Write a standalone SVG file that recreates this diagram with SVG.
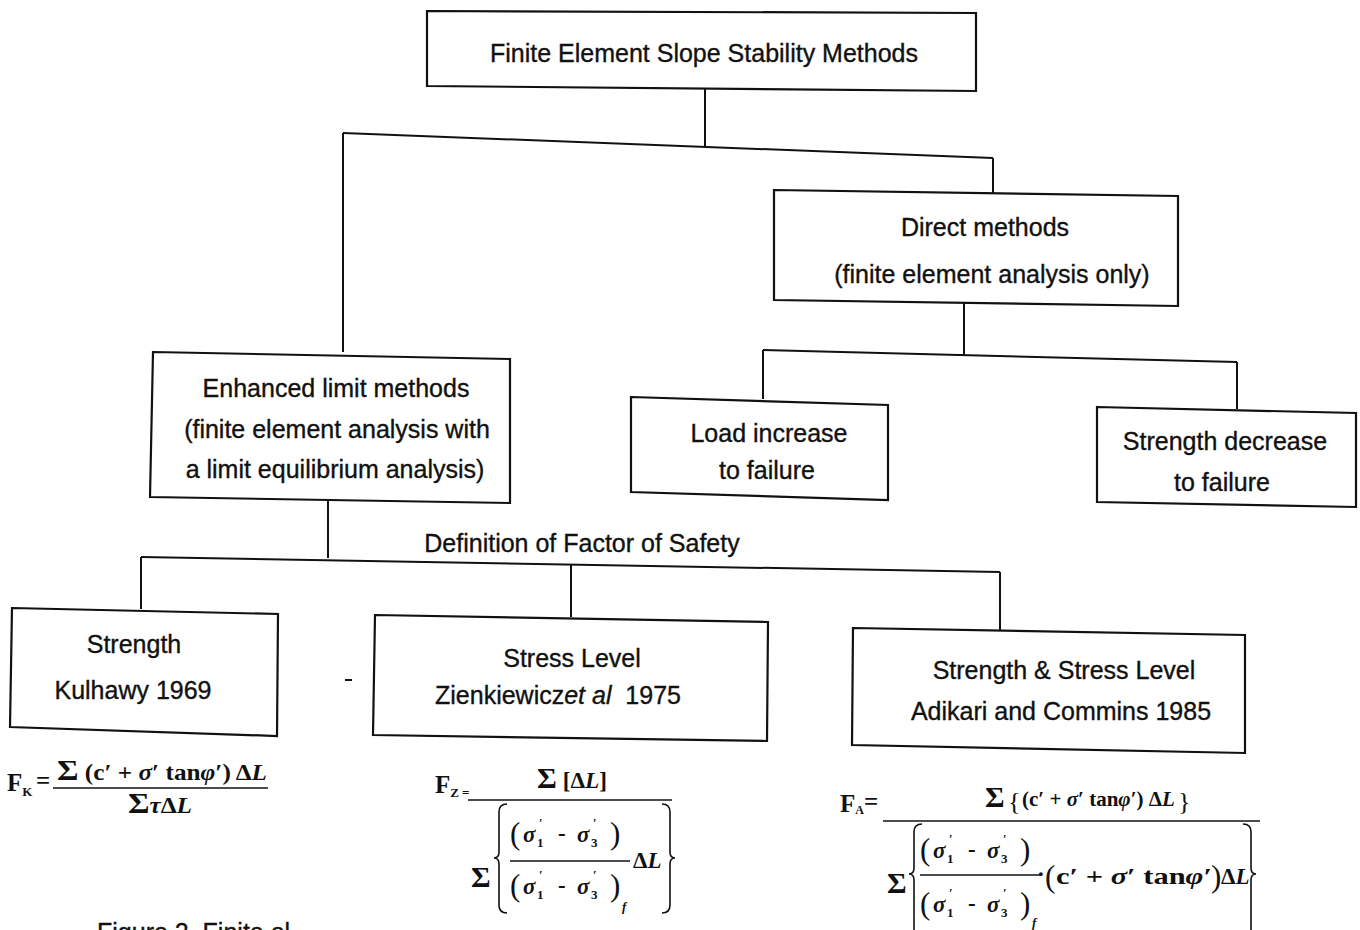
<svg xmlns="http://www.w3.org/2000/svg" xmlns:xlink="http://www.w3.org/1999/xlink" width="1360" height="930" viewBox="0 0 1360 930">
<style>
.box{fill:#fff;stroke:#111;stroke-width:2.2;stroke-linejoin:miter}
.ln{fill:none;stroke:#111;stroke-width:2}
.fl{fill:none;stroke:#111;stroke-width:1.6}
.t{font-family:"Liberation Sans",Arial,sans-serif;font-size:25px;fill:#111;stroke:#111;stroke-width:0.35;text-anchor:middle}
.m{font-family:"Liberation Serif","Times New Roman",serif;font-size:23px;font-weight:bold;fill:#111}
.i{font-style:italic}
.s{font-size:13px}
.big{font-size:31px;font-weight:normal}
.sg{font-size:30px}
.f25{font-size:25px}
.f21{font-size:21px}
</style>
<defs>
<g id="sdiff">
<text class="m big" x="0" y="2">(</text>
<text class="m i" x="13" y="0">σ</text>
<text class="m s" x="27" y="5">1</text>
<text class="m s" x="29" y="-15">′</text>
<text class="m" x="48" y="-1">-</text>
<text class="m i" x="67" y="0">σ</text>
<text class="m s" x="81" y="5">3</text>
<text class="m s" x="83" y="-15">′</text>
<text class="m big" x="100" y="2">)</text>
</g>
</defs>
<rect width="1360" height="930" fill="#fff"/>

<g id="connectors">
<path class="ln" d="M705,88 L705,147"/>
<path class="ln" d="M343,133 L993,158"/>
<path class="ln" d="M343,133 L343,352"/>
<path class="ln" d="M993,158 L993,193"/>
<path class="ln" d="M964,303 L964,356"/>
<path class="ln" d="M763,350 L1237,362"/>
<path class="ln" d="M763,350 L763,399"/>
<path class="ln" d="M1237,362 L1237,409"/>
<path class="ln" d="M328,500 L328,558"/>
<path class="ln" d="M141,557 L1000,572"/>
<path class="ln" d="M141,557 L141,609"/>
<path class="ln" d="M571,564 L571,617"/>
<path class="ln" d="M1000,572 L1000,630"/>
</g>

<g id="n-root">
<path class="box" d="M427,11 L976,13 L976,91 L427,86 Z"/>
<text class="t" x="704" y="62">Finite Element Slope Stability Methods</text>
</g>

<g id="n-direct">
<path class="box" d="M774,190 L1178,196 L1178,306 L774,300 Z"/>
<text class="t" x="985" y="236">Direct methods</text>
<text class="t" x="992" y="283">(finite element analysis only)</text>
</g>

<g id="n-load">
<path class="box" d="M631,397 L888,405 L888,500 L631,492 Z"/>
<text class="t" x="769" y="442">Load increase</text>
<text class="t" x="767" y="479">to failure</text>
</g>

<g id="n-strdec">
<path class="box" d="M1097,407 L1356,413 L1356,507 L1097,502 Z"/>
<text class="t" x="1225" y="450">Strength decrease</text>
<text class="t" x="1222" y="491">to failure</text>
</g>

<g id="n-enhanced">
<path class="box" d="M153,352 L510,359 L510,503 L150,497 Z"/>
<text class="t" x="336" y="397">Enhanced limit methods</text>
<text class="t" x="337" y="438">(finite element analysis with</text>
<text class="t" x="335" y="478">a limit equilibrium analysis)</text>
</g>

<g id="label-fos">
<text class="t" x="582" y="552">Definition of Factor of Safety</text>
</g>

<g id="n-strength">
<path class="box" d="M12,608 L278,614 L277,736 L10,727 Z"/>
<text class="t" x="134" y="653">Strength</text>
<text class="t" x="133" y="699">Kulhawy 1969</text>
</g>

<g id="n-stress">
<path class="box" d="M375,615 L768,622 L767,741 L373,735 Z"/>
<text class="t" x="572" y="667">Stress Level</text>
<text class="t" x="558" y="704">Zienkiewicz<tspan class="i">et al</tspan>&#160; 1975</text>
</g>

<g id="n-both">
<path class="box" d="M853,628 L1245,635 L1245,753 L852,745 Z"/>
<text class="t" x="1064" y="679">Strength &amp; Stress Level</text>
<text class="t" x="1061" y="720">Adikari and Commins 1985</text>
</g>

<path class="ln" d="M345,680 L352,680"/>

<g id="f-kulhawy">
<text class="m f25" x="7" y="791">F<tspan class="s" dy="5">K</tspan></text>
<text class="m f25" x="36" y="789">=</text>
<text class="m" x="57" y="780" textLength="210" lengthAdjust="spacingAndGlyphs"><tspan class="sg">Σ</tspan> (c′ + <tspan class="i">σ</tspan>′ tan<tspan class="i">φ</tspan>′) Δ<tspan class="i">L</tspan></text>
<path class="fl" d="M53,788 L268,788"/>
<text class="m" x="128" y="813" textLength="64" lengthAdjust="spacingAndGlyphs"><tspan class="sg">Σ</tspan><tspan class="i">τ</tspan>Δ<tspan class="i">L</tspan></text>
</g>

<g id="f-zienkiewicz">
<text class="m f25" x="435" y="793">F<tspan class="s" dy="4">Z</tspan></text>
<text class="m s" x="462" y="797">=</text>
<text class="m" x="537" y="788" textLength="70" lengthAdjust="spacingAndGlyphs"><tspan class="sg">Σ</tspan> [Δ<tspan class="i">L</tspan>]</text>
<path class="fl" d="M468,800 L672,800"/>
<text class="m sg" x="471" y="887">Σ</text>
<path class="fl" d="M507,804 Q499,804 499,812 L499,852 Q499,858 494,858 Q499,858 499,864 L499,905 Q499,913 507,913"/>
<path class="fl" d="M662,804 Q670,804 670,812 L670,852 Q670,858 675,858 Q670,858 670,864 L670,905 Q670,913 662,913"/>
<use xlink:href="#sdiff" x="510" y="842"/>
<path class="fl" d="M510,861 L630,861"/>
<text class="m" x="633" y="868">Δ<tspan class="i">L</tspan></text>
<use xlink:href="#sdiff" x="510" y="894"/>
<text class="m i s" x="622" y="911">f</text>
</g>

<g id="f-adikari">
<text class="m f25" x="840" y="812">F<tspan class="s" style="font-size:12px" dy="2">A</tspan></text>
<text class="m f25" x="864" y="810">=</text>
<text class="m sg" x="985" y="807">Σ</text>
<text class="m" x="1008" y="810" style="font-size:26px;font-weight:normal">{</text>
<text class="m f21" x="1022" y="806">(c′ + <tspan class="i">σ</tspan>′ tan<tspan class="i">φ</tspan>′) Δ<tspan class="i">L</tspan></text>
<text class="m" x="1178" y="810" style="font-size:26px;font-weight:normal">}</text>
<path class="fl" d="M883,821 L1260,821"/>
<text class="m sg" x="887" y="893">Σ</text>
<path class="fl" d="M922,824 Q914,824 914,832 L914,868 Q914,874 909,874 Q914,874 914,880 L914,930"/>
<path class="fl" d="M1243,824 Q1251,824 1251,832 L1251,868 Q1251,874 1256,874 Q1251,874 1251,880 L1251,930"/>
<use xlink:href="#sdiff" x="920" y="858"/>
<path class="fl" d="M920,875 L1040,875"/>
<text class="m" x="1037" y="882">·</text>
<text class="m big" x="1045" y="887">(</text>
<text class="m" x="1056" y="884" textLength="156" lengthAdjust="spacingAndGlyphs">c′ + <tspan class="i">σ</tspan>′ tan<tspan class="i">φ</tspan>′</text>
<text class="m big" x="1211" y="887">)</text>
<text class="m" x="1221" y="884">Δ<tspan class="i">L</tspan></text>
<use xlink:href="#sdiff" x="920" y="912"/>
<text class="m i s" x="1032" y="927">f</text>
</g>

<text class="t" x="97" y="941" style="text-anchor:start">Figure 2. Finite el</text>
</svg>
